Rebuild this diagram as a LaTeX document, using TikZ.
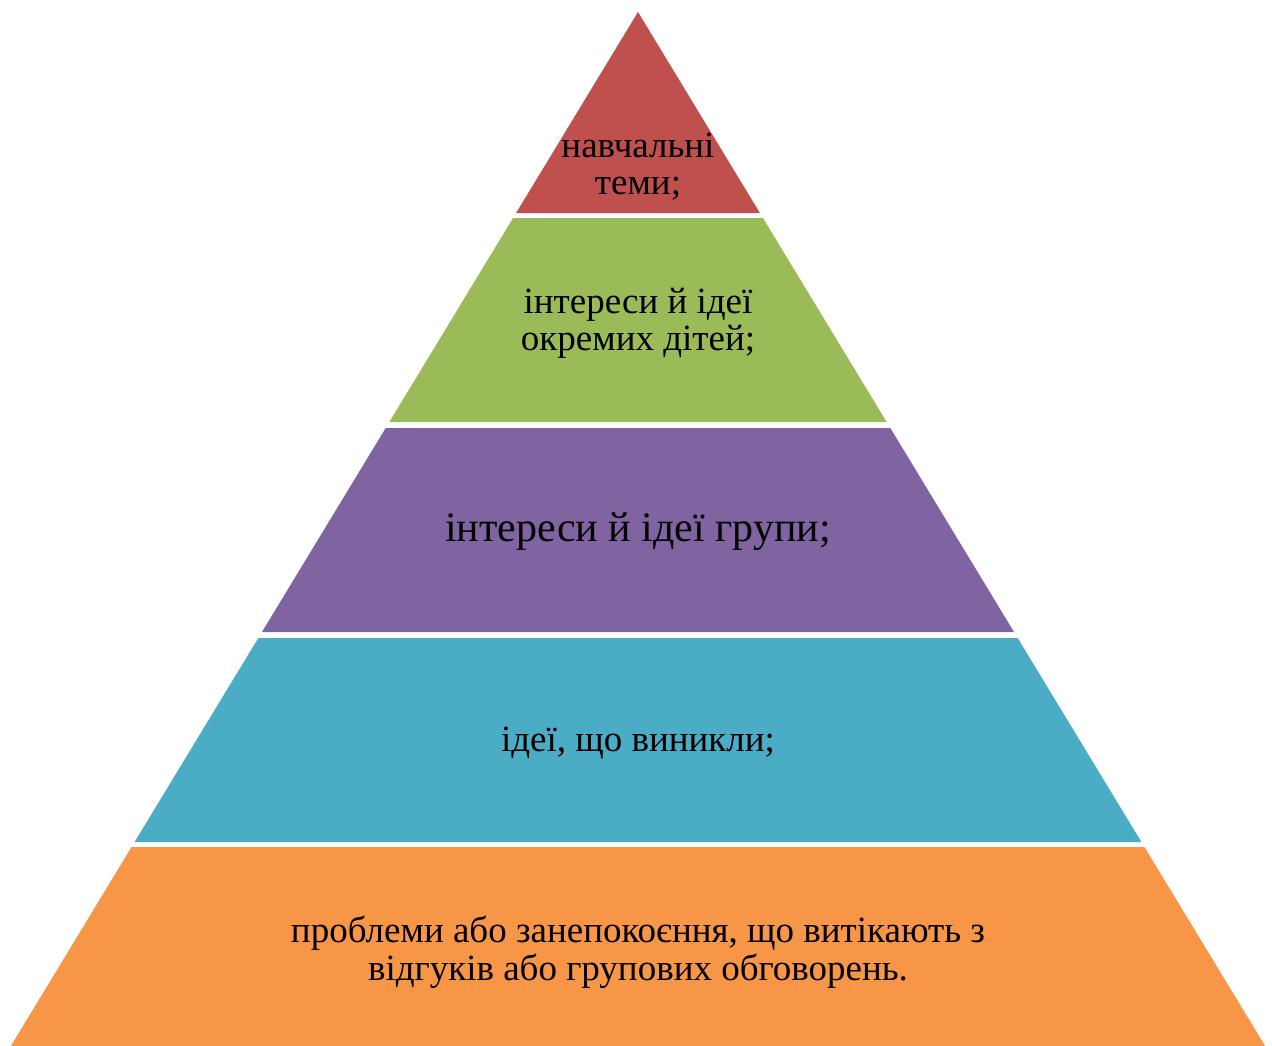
\documentclass[tikz,border=0pt]{standalone}
\usepackage{fontspec}
\setmainfont{Liberation Serif}
\definecolor{tierred}{HTML}{C0504D}
\definecolor{tiergreen}{HTML}{9BBB59}
\definecolor{tierpurple}{HTML}{8064A2}
\definecolor{tierblue}{HTML}{4BACC6}
\definecolor{tierorange}{HTML}{F79646}
\tikzset{
  tierlabel/.style={align=center, text=black, inner sep=0pt},
}
\begin{document}
\begin{tikzpicture}[x=1pt,y=-1pt]
\useasboundingbox (0,0) rectangle (1272,1046);
% pyramid layers: top y / bottom y / colour
\foreach \yt/\yb/\col in {12/213/tierred, 218/422/tiergreen, 428/632/tierpurple,
                          638/842/tierblue, 847/1046/tierorange}
  \fill[\col] ({638-0.6065*(\yt-12)},\yt) -- ({638+0.6065*(\yt-12)},\yt)
     -- ({638+0.6065*(\yb-12)},\yb) -- ({638-0.6065*(\yb-12)},\yb) -- cycle;
% labels
\node[tierlabel, font=\fontsize{37}{37}\selectfont] (topics) at (638,167)
  {навчальні\\теми;};
\node[tierlabel, font=\fontsize{37}{37}\selectfont] (children) at (638,323)
  {інтереси й ідеї\\окремих дітей;};
\node[tierlabel, font=\fontsize{42}{46}\selectfont] (group) at (638,532)
  {інтереси й ідеї групи;};
\node[tierlabel, font=\fontsize{37}{38}\selectfont] (ideas) at (638,743)
  {ідеї, що виникли;};
\node[tierlabel, font=\fontsize{37}{38}\selectfont] (problems) at (638,952)
  {проблеми або занепокоєння, що витікають з\\відгуків або групових обговорень.};
\end{tikzpicture}
\end{document}
